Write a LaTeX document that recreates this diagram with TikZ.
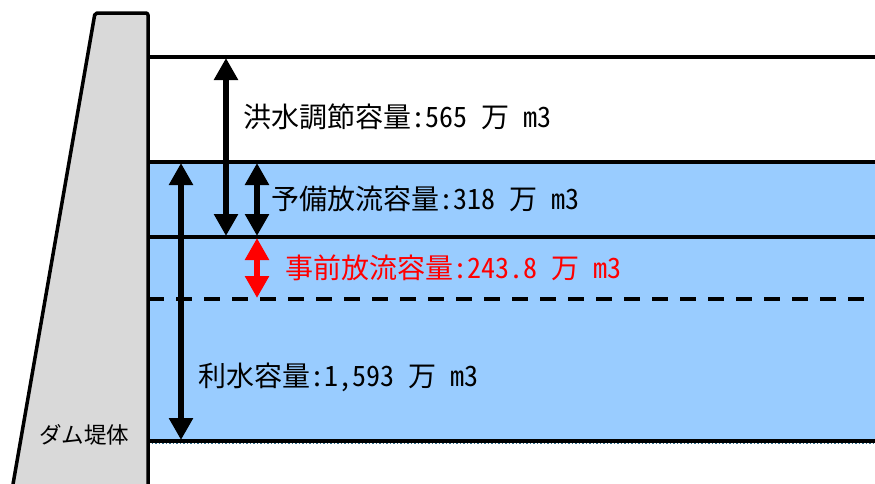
\documentclass[tikz,border=0pt]{standalone}
\usepackage{fontspec}
\setmainfont{Noto Sans CJK JP}[RawFeature=+hwid]
\usepackage{tikz}
\usetikzlibrary{arrows.meta,positioning}
\definecolor{waterblue}{HTML}{99CCFF}
\definecolor{damgray}{HTML}{D9D9D9}
\definecolor{seabed}{HTML}{2F6F8F}

\begin{document}
\begin{tikzpicture}[x=1pt, y=-1pt,
  level/.style={line width=3.5pt},
  lbl/.style={anchor=west, inner sep=0pt, font=\fontsize{28}{30}\selectfont},
  vol/.style={line width=6.5pt, {Triangle[width=23pt,length=22pt]}-{Triangle[width=23pt,length=22pt]}},
  >=Stealth]
  \useasboundingbox (0,0) rectangle (875,483);
  % water body
  \fill[waterblue] (148,162) rectangle (875,441);
  \draw[seabed, line width=1.5pt, dotted] (148,443.5) -- (875,443.5);
  % dam
  \draw[fill=damgray, line width=3.5pt, line join=round, rounded corners=2pt]
    (12,490) -- (95,13) -- (148,13) -- (148,490);
  % water levels
  \draw[level] (148,57) -- (875,57);
  \draw[level] (148,162) -- (875,162);
  \draw[level] (148,237) -- (875,237);
  \draw[level, dash pattern=on 16pt off 12pt] (148,299) -- (875,299);
  \draw[level] (148,441) -- (875,441);

  \coordinate (fc-top) at (226,58);
  \coordinate (fc-bot) at (226,236);
  \coordinate (rs-top) at (257,163);
  \coordinate (rs-bot) at (257,236);
  \coordinate (pr-top) at (257,238);
  \coordinate (pr-bot) at (257,298);
  \coordinate (wu-top) at (181,163);
  \coordinate (wu-bot) at (181,440);

  \draw[vol] (fc-top) -- (fc-bot);
  \draw[vol] (rs-top) -- (rs-bot);
  \draw[vol, red] (pr-top) -- (pr-bot);
  \draw[vol] (wu-top) -- (wu-bot);

  \node[lbl] (flood) at (243,117) {洪水調節容量:565 万 m3};
  \node[lbl] (reserve) at (271,199) {予備放流容量:318 万 m3};
  \node[lbl, red] (prior) at (285,268) {事前放流容量:243.8 万 m3};
  \node[lbl] (wateruse) at (198,377) {利水容量:1,593 万 m3};
  \node[lbl, font=\fontsize{22.5}{24}\selectfont] (dam) at (39,435) {ダム堤体};
\end{tikzpicture}
\end{document}
